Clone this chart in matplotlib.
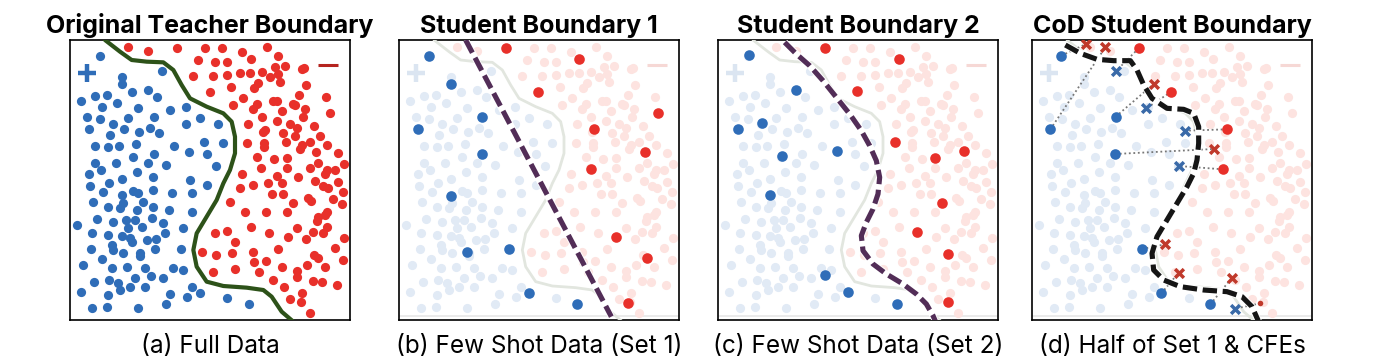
import matplotlib
matplotlib.use("Agg")
import matplotlib.pyplot as plt
import numpy as np

# panel coordinates: 0..840 across the box, y measured downward
BLUE = [(90,47),(277,93),(157,110),(157,133),(185,155),(235,150),(75,167),(110,165),(33,183),
        (142,190),(97,200),(262,172),(205,203),(347,200),(300,210),(50,232),(90,238),(173,235),
        (253,230),(390,235),(348,252),(445,253),(130,253),(58,268),(162,268),(240,263),(208,277),
        (268,280),(120,285),(402,305),(460,310),(75,318),(115,322),(148,318),(197,312),(312,317),
        (358,335),(410,343),(252,343),(190,350),(75,368),(137,368),(235,370),(288,375),(437,377),
        (92,390),(202,395),(58,403),(157,417),(248,410),(360,420),(60,437),(118,430),(100,457),
        (188,452),(250,450),(410,435),(155,465),(203,460),(305,460),(367,460),(70,485),(160,490),
        (218,487),(115,502),(150,505),(200,510),(248,500),(298,510),(367,517),(80,538),(130,545),
        (168,540),(195,540),(245,535),(280,550),(22,555),(175,563),(215,560),(65,580),(115,585),
        (155,588),(180,595),(232,600),(258,597),(285,580),(338,565),(125,615),(185,605),(62,628),
        (128,630),(160,640),(210,640),(255,627),(332,627),(95,658),(210,648),(40,675),(125,683),
        (170,682),(225,685),(310,683),(340,690),(72,725),(118,720),(145,730),(195,715),(242,708),
        (280,715),(150,750),(180,740),(225,740),(365,740),(32,755),(115,765),(300,763),(350,772),
        (390,758),(470,775),(288,792),(65,805),(110,802),(205,803),(537,793)]
RED = [(175,20),(235,33),(322,25),(405,25),(455,25),(515,35),(592,22),(625,48),(385,60),(435,67),
       (470,65),(542,57),(615,80),(645,78),(695,88),(702,83),(368,108),(428,108),(472,105),(510,100),
       (540,98),(577,97),(600,110),(625,103),(630,125),(565,128),(552,145),(482,140),(420,155),
       (708,135),(688,165),(518,175),(490,195),(562,192),(550,208),(610,182),(620,183),(670,192),
       (675,195),(768,170),(635,212),(705,208),(780,220),(700,232),(575,232),(622,242),(535,252),
       (660,252),(682,265),(732,258),(585,270),(578,275),(640,280),(675,288),(750,288),(530,308),
       (582,310),(648,305),(695,315),(720,305),(770,315),(582,322),(690,327),(738,335),(560,352),
       (613,357),(650,353),(805,340),(745,370),(573,385),(652,385),(720,385),(770,390),(795,390),
       (823,372),(517,402),(620,407),(685,410),(765,402),(550,435),(593,430),(635,430),(735,423),
       (760,438),(510,443),(775,445),(803,425),(820,457),(607,463),(640,463),(715,475),(722,482),
       (480,487),(670,490),(790,478),(815,492),(525,515),(587,515),(650,517),(770,515),(745,530),
       (765,525),(740,543),(543,562),(680,565),(770,560),(435,578),(470,572),(597,580),(653,590),
       (730,575),(760,580),(495,607),(708,598),(823,595),(395,635),(437,645),(485,640),(548,635),
       (625,628),(795,625),(733,645),(745,655),(820,660),(552,665),(587,662),(637,680),(710,675),
       (765,680),(428,695),(495,688),(568,695),(680,692),(682,710),(608,720),(728,723),(757,725),
       (802,735),(642,742),(695,760),(660,778),(692,785),(720,820)]
TEACHER = [(105,0),(150,35),(185,60),(230,65),(280,67),(310,90),(335,135),(360,175),(410,200),
           (460,220),(485,245),(495,290),(495,340),(480,390),(460,430),(440,480),(410,530),
           (380,580),(370,630),(380,680),(410,725),(460,738),(530,743),(580,750),(605,770),
           (635,815),(670,845)]

SET1_BLUE = [(90,47),(157,133),(250,230),(57,268),(250,342),(155,467),(205,635),(329,627),(389,758),(535,793)]
SET1_RED = [(321,25),(540,57),(417,155),(778,220),(586,268),(737,335),(575,388),(650,592),(745,653),(688,790)]
STUDENT1 = [(200,0),(637,830)]

SET2_BLUE = [(92,45),(235,149),(133,250),(59,268),(192,348),(357,332),(157,465),(322,705),(390,755),(537,792)]
SET2_RED = [(321,24),(543,57),(418,154),(531,305),(737,334),(650,353),(673,489),(596,577),(691,643),(689,787)]
STUDENT2 = [(200,7),(235,42),(275,77),(315,122),(355,172),(395,222),(430,272),(455,317),(475,362),
            (485,412),(480,462),(465,507),(445,547),(430,587),(435,632),(465,672),(505,702),
            (555,732),(595,762),(625,792),(645,827),(655,850)]

HALF_BLUE = [(88,47),(55,268),(251,230),(250,342),(330,627),(388,760),(535,793)]
HALF_RED = [(320,25),(418,155),(585,268),(573,388)]
CFE_RED = [(162,12),(220,22),(365,132),(545,327),(399,613),(440,698),(600,713)]   # CFEs of blue points
CFE_BLUE = [(253,92),(343,205),(460,272),(440,378),(609,806)]                     # CFEs of red points
EDGE_RED = (685,790)
# (original, counterfactual) pairs
LINKS = [((88,47),(162,12)),((55,268),(220,22)),((320,25),(253,92)),((251,230),(365,132)),
         ((418,155),(343,205)),((585,268),(460,272)),((250,342),(545,327)),((573,388),(440,378)),
         ((330,627),(399,613)),((388,760),(440,698)),((535,793),(600,713)),((685,790),(609,806))]
STUDENT_COD = [(100,15),(145,40),(195,58),(245,62),(295,62),(315,90),(335,135),(360,175),(405,205),
               (455,208),(485,220),(500,260),(500,310),(495,360),(485,400),(465,440),(435,490),
               (405,540),(375,590),(360,640),(365,690),(395,720),(445,740),(515,750),(585,755),
               (630,770),(660,800),(680,845)]

TITLES = ["Original Teacher Boundary", "Student Boundary 1", "Student Boundary 2", "CoD Student Boundary"]
CAPTIONS = ["(a) Full Data", "(b) Few Shot Data (Set 1)", "(c) Few Shot Data (Set 2)", "(d) Half of Set 1 & CFEs"]
LEFTS = [70, 399, 718, 1032]

C_BLUE, C_RED = "#2f6db8", "#e8302a"
L_BLUE, L_RED = "#e1eaf5", "#fde3e0"
FONT = "Inter"

fig = plt.figure(figsize=(13.76, 3.64), dpi=100)


def xy(pts):
    a = np.array(pts, dtype=float)
    return a[:, 0], a[:, 1]


def background(ax, faded):
    cb, cr = (L_BLUE, L_RED) if faded else (C_BLUE, C_RED)
    ax.scatter(*xy(BLUE), s=44, color=cb, lw=0, zorder=2)
    ax.scatter(*xy(RED), s=44, color=cr, lw=0, zorder=2)
    ax.plot(*xy(TEACHER), color="#e2e6df" if faded else "#2d5219", lw=2.0 if faded else 3.0,
            solid_capstyle="round", zorder=3)
    ax.plot([50], [100], marker="+", ms=13, mew=3.2, color="#dbe5f1" if faded else C_BLUE, zorder=3)
    ax.plot([775], [76], marker="_", ms=15, mew=2.2, color="#f6d8d5" if faded else "#b5241f", zorder=3)
    if faded:
        ax.axhline(828, color="#e6e6e6", lw=1.2, zorder=1)


def dashed(ax, pts, color):
    ax.plot(*xy(pts), color="white", lw=5.0, zorder=4, solid_capstyle="butt")
    ax.plot(*xy(pts), color=color, lw=3.7, dashes=(2.8, 1.1), zorder=5, dash_capstyle="butt")


axes = []
for i, left in enumerate(LEFTS):
    ax = fig.add_axes([left / 1376, 44 / 364, 280 / 1376, 280 / 364])
    ax.set_xlim(0, 840)
    ax.set_ylim(840, 0)
    ax.set_xticks([]); ax.set_yticks([])
    for sp in ax.spines.values():
        sp.set_linewidth(1.2)
    ax.text(0.5, 1.026, TITLES[i], transform=ax.transAxes, ha="center", va="baseline",
            fontsize=18, fontweight="bold", family=FONT)
    ax.text(0.5, -0.118, CAPTIONS[i], transform=ax.transAxes, ha="center", va="baseline",
            fontsize=17.5, family=FONT)
    axes.append(ax)

background(axes[0], False)

background(axes[1], True)
dashed(axes[1], STUDENT1, "#522d57")
axes[1].scatter(*xy(SET1_BLUE), s=58, color=C_BLUE, lw=0, zorder=6)
axes[1].scatter(*xy(SET1_RED), s=58, color=C_RED, lw=0, zorder=6)

background(axes[2], True)
dashed(axes[2], STUDENT2, "#522d57")
axes[2].scatter(*xy(SET2_BLUE), s=58, color=C_BLUE, lw=0, zorder=6)
axes[2].scatter(*xy(SET2_RED), s=58, color=C_RED, lw=0, zorder=6)

ax = axes[3]
background(ax, True)
for a, b in LINKS:
    ax.plot([a[0], b[0]], [a[1], b[1]], color="#777777", lw=1.3, ls=(0, (1, 1.5)), zorder=4)
dashed(ax, STUDENT_COD, "#151515")
ax.scatter(*xy(HALF_BLUE), s=58, color=C_BLUE, lw=0, zorder=6)
ax.scatter(*xy(HALF_RED), s=58, color=C_RED, lw=0, zorder=6)
ax.scatter([EDGE_RED[0]], [EDGE_RED[1]], s=16, color="#c0392b", lw=0, zorder=6)
ax.scatter(*xy(CFE_RED), marker="x", s=40, color="#c0392b", lw=2.5, zorder=7)
ax.scatter(*xy(CFE_BLUE), marker="x", s=40, color="#3a6aa8", lw=2.5, zorder=7)

fig.savefig("out.png", dpi=100)
